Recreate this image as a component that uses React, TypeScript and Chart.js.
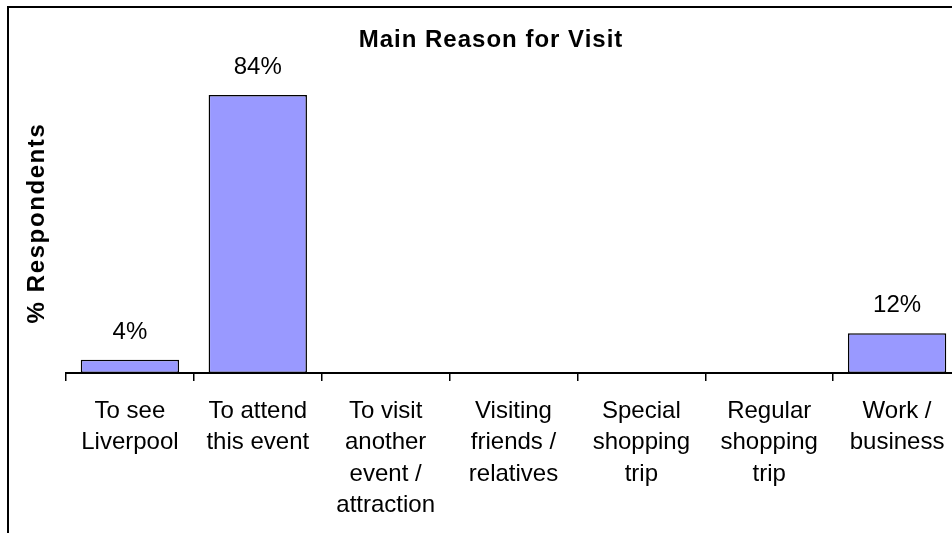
import React, { useEffect, useRef } from "react";
import { Chart, registerables } from "chart.js";

Chart.register(...registerables);

const chartTitle = "Main Reason for Visit";
const yAxisTitle = "% Respondents";
const categories: string[][] = [
  ["To see", "Liverpool"],
  ["To attend", "this event"],
  ["To visit", "another", "event /", "attraction"],
  ["Visiting", "friends /", "relatives"],
  ["Special", "shopping", "trip"],
  ["Regular", "shopping", "trip"],
  ["Work /", "business"],
];
const values: number[] = [4, 84, 0, 0, 0, 0, 12];

const FONT = "'Liberation Sans', Arial, sans-serif";

const decorPlugin = {
  id: "decor",
  beforeDraw(chart: any) {
    const ctx = chart.ctx;
    ctx.save();
    ctx.fillStyle = "#ffffff";
    ctx.fillRect(0, 0, chart.width, chart.height);
    ctx.strokeStyle = "#000000";
    ctx.lineWidth = 2;
    ctx.strokeRect(8, 7, 966, 700);
    ctx.restore();
  },
  afterDraw(chart: any) {
    const ctx = chart.ctx;
    ctx.save();
    ctx.fillStyle = "#000000";
    // title
    ctx.font = `bold 24px ${FONT}`;
    ctx.textAlign = "center";
    ctx.textBaseline = "alphabetic";
    try {
      (ctx as any).letterSpacing = "1px";
    } catch (e) {}
    ctx.fillText(chartTitle, chart.width / 2, 47);
    // y axis title
    ctx.save();
    try {
      (ctx as any).letterSpacing = "1.6px";
    } catch (e) {}
    ctx.translate(37, 223);
    ctx.rotate(-Math.PI / 2);
    ctx.textBaseline = "middle";
    ctx.fillText(yAxisTitle, 0, 0);
    ctx.restore();
    try {
      (ctx as any).letterSpacing = "0px";
    } catch (e) {}
    // data labels
    ctx.font = `24px ${FONT}`;
    ctx.textAlign = "center";
    ctx.textBaseline = "alphabetic";
    const meta = chart.getDatasetMeta(0);
    meta.data.forEach((bar: any, i: number) => {
      const v = values[i];
      if (v > 0) {
        ctx.fillText(`${v}%`, bar.x, bar.y - 21);
      }
    });
    ctx.restore();
  },
};

export default function App() {
  const ref = useRef<HTMLCanvasElement | null>(null);
  useEffect(() => {
    if (!ref.current) return;
    const chart = new Chart(ref.current, {
      type: "bar",
      data: {
        labels: categories,
        datasets: [
          {
            data: values,
            backgroundColor: "#9999FF",
            borderColor: "#000000",
            borderWidth: 1.5,
            borderSkipped: false,
            barPercentage: 1,
            categoryPercentage: 1 / 1.3,
          },
        ],
      },
      options: {
        responsive: false,
        animation: false,
        devicePixelRatio: 1,
        layout: { padding: { left: 66, top: 42, right: 21, bottom: 0 } },
        plugins: {
          legend: { display: false },
          title: { display: false },
          tooltip: { enabled: false },
        },
        scales: {
          y: { display: false, min: 0, max: 100 },
          x: {
            offset: true,
            afterFit: (scale: any) => {
              scale.height = 560 - 373;
            },
            grid: {
              display: true,
              offset: true,
              drawOnChartArea: false,
              drawTicks: true,
              tickLength: 8,
              color: "#000000",
              lineWidth: 1.5,
            },
            border: { display: true, color: "#000000", width: 2 },
            ticks: {
              color: "#000000",
              autoSkip: false,
              maxRotation: 0,
              minRotation: 0,
              padding: 15,
              font: { family: FONT, size: 24, lineHeight: 1.3 },
            },
          },
        },
      },
      plugins: [decorPlugin],
    });
    return () => chart.destroy();
  }, []);
  return (
    <div
      style={{
        position: "fixed",
        left: 0,
        top: 0,
        width: 952,
        height: 533,
        overflow: "hidden",
        background: "#ffffff",
      }}
    >
      <canvas ref={ref} width={982} height={560} style={{ display: "block" }} />
    </div>
  );
}
